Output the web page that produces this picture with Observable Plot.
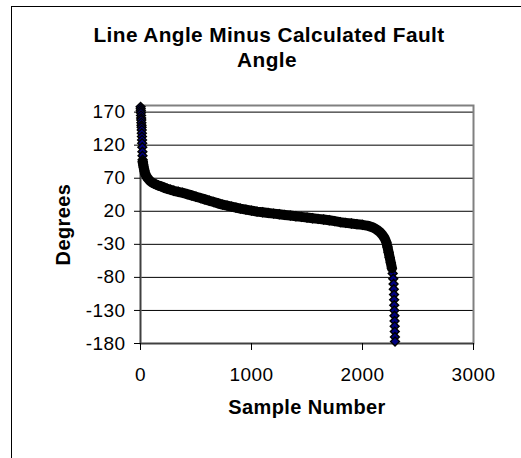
<!DOCTYPE html>
<html><head><meta charset="utf-8">
<script src="https://cdn.jsdelivr.net/npm/d3@7"></script>
<script src="https://cdn.jsdelivr.net/npm/@observablehq/plot@0.6"></script>
<style>
html,body{margin:0;padding:0;background:#fff;}
#wrap{position:relative;width:521px;height:458px;overflow:hidden;}
#border{position:absolute;left:11px;top:6px;width:700px;height:700px;border:1px solid #000;}
#chart{position:absolute;left:0;top:0;}
</style></head><body>
<div id="wrap"><div id="border"></div><div id="chart"></div></div>
<script>
const sampleNumbers = [1,2,3,4,5,6,7,8,9,10,11,12,13,14,15,16,17,18,19,20,22,25,28,32,36,40,45,50,60,70,85,100,120,140,160,180,210,240,270,300,340,380,420,460,500,540,580,620,660,700,740,780,820,860,900,950,1000,1050,1100,1150,1200,1250,1300,1350,1400,1450,1500,1550,1600,1650,1700,1750,1800,1850,1900,1950,2000,2050,2100,2130,2160,2180,2200,2215,2225,2235,2245,2255,2265,2272,2277,2280,2282,2284,2285,2286,2287,2288,2289,2290,2291,2292,2293];
const degrees = [178,175,172,169,165,161,158,154,150,147,143,138,133,128,123,117,110,104,98,95,93,90,87,84,81,78,76,74,71,69,66,64,62,60.5,59,58,56,54,52.5,51,49.5,48,46,44,42,40,38,36,34,32,30,28.5,27,25.5,24,22.5,21,19.5,18.5,17.5,16.5,15.5,14.5,13.5,12.5,11.5,10.5,9.5,8.5,7.5,6.5,5,3.5,2.5,1.5,0.5,-0.5,-2,-5,-8,-12,-16,-21,-27,-34,-42,-50,-58,-66,-74,-82,-90,-98,-106,-114,-122,-130,-138,-146,-154,-162,-170,-177];
const xTicks = [0,1000,2000,3000];
const yTicks = [-180,-130,-80,-30,20,70,120,170];
const titleLines = ["Line Angle Minus Calculated Fault","Angle"];
const xLabel = "Sample Number";
const yLabel = "Degrees";

const data = sampleNumbers.map((s,i)=>({s, v:degrees[i]}));
const dense = data.filter(d => d.s >= 20 && d.s <= 2265);
const font = "'Liberation Sans', Arial, sans-serif";

const plot = Plot.plot({
  width:521, height:458,
  marginLeft:140, marginRight:48, marginTop:105, marginBottom:115,
  style:{fontFamily:font, fontSize:"19px", background:"transparent", letterSpacing:"0.4px", color:"#000"},
  x:{domain:[0,3000]},
  y:{domain:[-180,180]},
  marks:[
    Plot.gridY(yTicks,{stroke:"#000", strokeOpacity:1, strokeWidth:1}),
    Plot.frame({stroke:"#808080", strokeWidth:2}),
    Plot.ruleX([0],{stroke:"#404040", strokeWidth:1.5}),
    Plot.ruleY([-180],{stroke:"#404040", strokeWidth:1.5}),
    Plot.axisY({ticks:yTicks, tickSize:6, tickPadding:9, tickFormat:d=>String(d), label:null}),
    Plot.axisX({ticks:xTicks, tickSize:7, tickPadding:17, tickFormat:d=>String(d), label:null}),
    Plot.axisY({ticks:[], label:yLabel, labelAnchor:"center", labelArrow:"none", labelOffset:85, fontWeight:"bold", fontSize:20}),
    Plot.axisX({ticks:[], label:xLabel, labelAnchor:"center", labelArrow:"none", labelOffset:70, fontWeight:"bold", fontSize:20}),
    Plot.dot(data,{x:"s", y:"v", symbol:"diamond2", r:4, fill:"#000080", stroke:"#000", strokeWidth:1.4}),
    Plot.line(dense,{x:"s", y:"v", stroke:"#000", strokeWidth:10, strokeLinecap:"round", strokeLinejoin:"round"}),
    Plot.text([titleLines[0]],{text:d=>d, frameAnchor:"top", dx:-38, dy:-78, fontWeight:"bold", fontSize:20.8}),
    Plot.text([titleLines[1]],{text:d=>d, frameAnchor:"top", dx:-40, dy:-53, fontWeight:"bold", fontSize:20.8})
  ]
});
document.getElementById("chart").appendChild(plot);
</script>
</body></html>
